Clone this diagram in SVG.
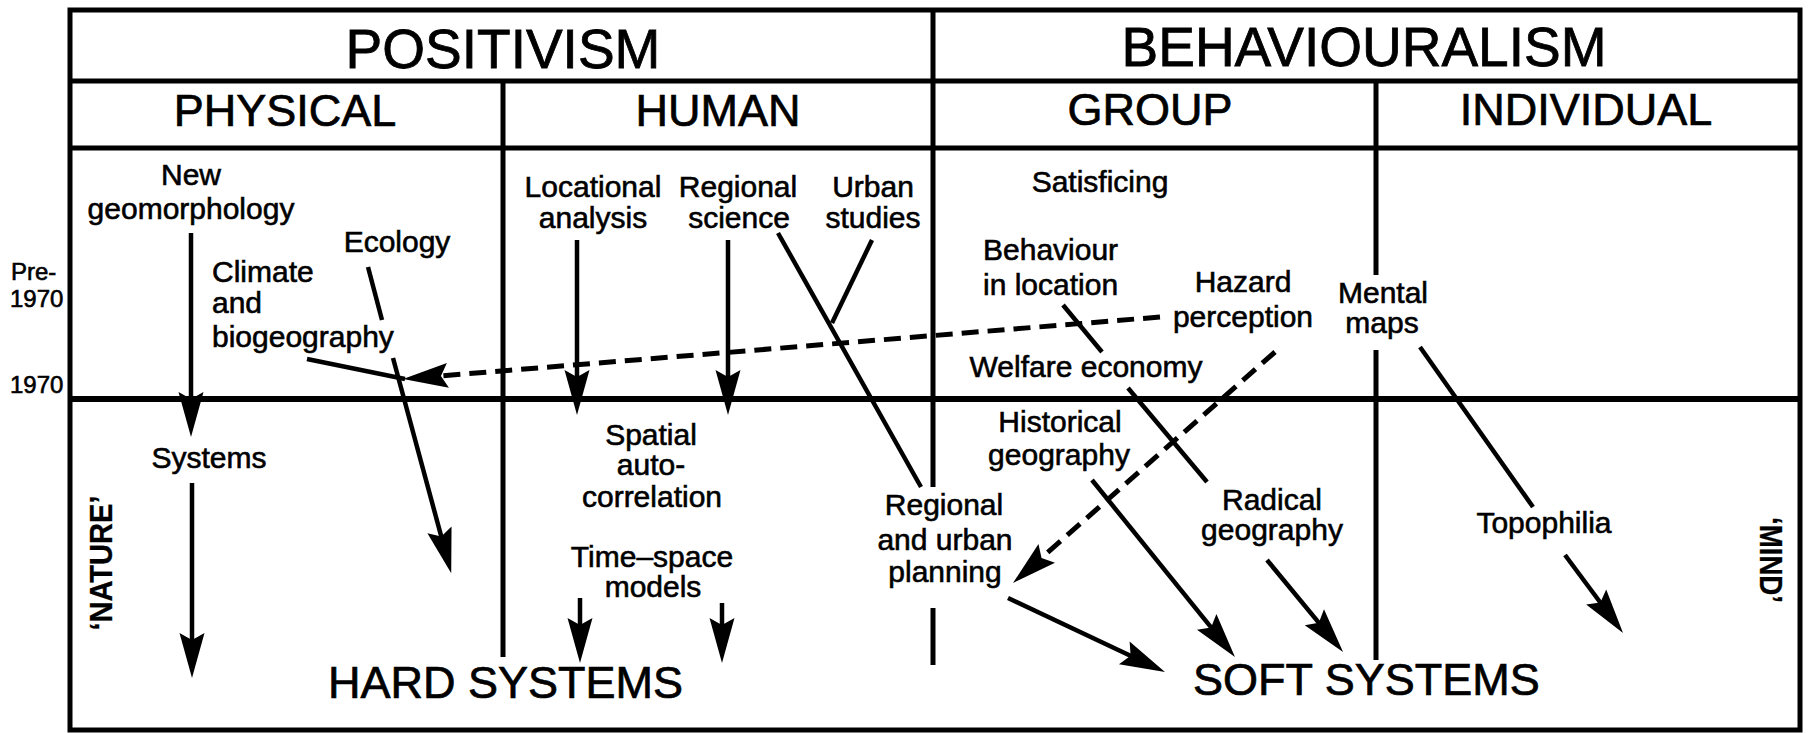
<svg xmlns="http://www.w3.org/2000/svg" width="1813" height="733" viewBox="0 0 1813 733">
<style>
  text { font-family: "Liberation Sans", Arial, sans-serif; fill: #000; stroke: #000; stroke-width: 0.6; }
  .s { font-size: 30px; }
  .m { text-anchor: middle; }
  .h1 { font-size: 55px; text-anchor: middle; stroke-width: 0.8; }
  .h2 { font-size: 45px; text-anchor: middle; stroke-width: 0.7; }
  .big { font-size: 45px; stroke-width: 0.7; }
  .yr { font-size: 24px; }
  .rot { font-size: 32px; font-weight: bold; text-anchor: middle; stroke-width: 0.3; }
  .grid line, .grid rect { stroke: #000; stroke-width: 5; fill: none; }
  .c line { stroke: #000; stroke-width: 4.5; fill: none; }
  .c .d { stroke-width: 5; stroke-dasharray: 17 9; }
  .c .a { marker-end: url(#ah); }
</style>
<defs>
  <marker id="ah" markerUnits="userSpaceOnUse" viewBox="-28 -14 50 28" markerWidth="50" markerHeight="28" refX="0" refY="0" orient="auto">
    <path d="M20,0 L-25,-12.5 L-18,0 L-25,12.5 Z" fill="#000"/>
  </marker>
</defs>
<rect width="1813" height="733" fill="#fff"/>

<g id="grid" class="grid">
  <rect x="70" y="10" width="1730" height="720"/>
  <line x1="70" y1="81" x2="1800" y2="81"/>
  <line x1="70" y1="148" x2="1800" y2="148"/>
  <line x1="70" y1="399" x2="1800" y2="399" style="stroke-width:6"/>
  <line x1="933" y1="10" x2="933" y2="487"/>
  <line x1="933" y1="608" x2="933" y2="665"/>
  <line x1="503" y1="81" x2="503" y2="657"/>
  <line x1="1376" y1="81" x2="1376" y2="275"/>
  <line x1="1376" y1="350" x2="1376" y2="660"/>
</g>

<g id="headers">
  <text id="positivism" class="h1" x="503" y="68">POSITIVISM</text>
  <text id="behaviouralism" class="h1" x="1364" y="66">BEHAVIOURALISM</text>
  <text id="physical" class="h2" x="285" y="126">PHYSICAL</text>
  <text id="human" class="h2" x="718" y="126">HUMAN</text>
  <text id="group" class="h2" x="1150" y="125">GROUP</text>
  <text id="individual" class="h2" x="1586" y="125">INDIVIDUAL</text>
</g>

<g id="time-labels">
  <text class="yr" x="11" y="280">Pre-</text>
  <text class="yr" x="10" y="307">1970</text>
  <text class="yr" x="10" y="393">1970</text>
</g>

<g id="node-new-geomorphology"><text class="s m" x="191" y="185">New</text><text class="s m" x="191" y="219">geomorphology</text></g>
<g id="node-ecology"><text class="s m" x="397" y="252">Ecology</text></g>
<g id="node-climate"><text class="s" x="212" y="282">Climate</text><text class="s" x="212" y="313">and</text><text class="s" x="212" y="347">biogeography</text></g>
<g id="node-locational"><text class="s m" x="593" y="197">Locational</text><text class="s m" x="593" y="228">analysis</text></g>
<g id="node-regional-science"><text class="s m" x="738" y="197">Regional</text><text class="s m" x="739" y="228">science</text></g>
<g id="node-urban"><text class="s m" x="873" y="197">Urban</text><text class="s m" x="873" y="228">studies</text></g>
<g id="node-satisficing"><text class="s m" x="1100" y="192">Satisficing</text></g>
<g id="node-behaviour"><text class="s" x="983" y="260">Behaviour</text><text class="s" x="983" y="295">in location</text></g>
<g id="node-hazard"><text class="s m" x="1243" y="292">Hazard</text><text class="s m" x="1243" y="327">perception</text></g>
<g id="node-mental"><text class="s m" x="1383" y="303">Mental</text><text class="s m" x="1382" y="333">maps</text></g>
<g id="node-welfare"><text class="s m" x="1086" y="377">Welfare economy</text></g>
<g id="node-systems"><text class="s m" x="209" y="468">Systems</text></g>
<g id="node-spatial"><text class="s m" x="651" y="445">Spatial</text><text class="s m" x="651" y="475">auto-</text><text class="s m" x="652" y="507">correlation</text></g>
<g id="node-timespace"><text class="s m" x="652" y="567">Time–space</text><text class="s m" x="653" y="597">models</text></g>
<g id="node-planning"><text class="s m" x="944" y="515">Regional</text><text class="s m" x="945" y="550">and urban</text><text class="s m" x="945" y="582">planning</text></g>
<g id="node-historical"><text class="s m" x="1060" y="432">Historical</text><text class="s m" x="1059" y="465">geography</text></g>
<g id="node-radical"><text class="s m" x="1272" y="510">Radical</text><text class="s m" x="1272" y="540">geography</text></g>
<g id="node-topophilia"><text class="s m" x="1544" y="533">Topophilia</text></g>
<g id="node-hard"><text class="big" x="328" y="698">HARD SYSTEMS</text></g>
<g id="node-soft"><text class="big" x="1193" y="695">SOFT SYSTEMS</text></g>
<g id="node-nature"><text class="rot" transform="translate(112,563) rotate(-90)" textLength="135" lengthAdjust="spacingAndGlyphs">‘NATURE’</text></g>
<g id="node-mind"><text class="rot" transform="translate(1760,560) rotate(90)" textLength="86" lengthAdjust="spacingAndGlyphs">‘MIND’</text></g>

<g id="connectors" class="c">
  <line class="a" x1="191" y1="233" x2="191" y2="417"/>
  <line class="a" x1="192" y1="483" x2="192" y2="658"/>
  <line x1="368" y1="267" x2="382" y2="320"/>
  <line class="a" x1="393" y1="358" x2="446" y2="554"/>
  <line x1="307" y1="359" x2="405" y2="379"/>
  <line class="d a" x1="1160" y1="317" x2="423" y2="377.4"/>
  <line class="a" x1="577" y1="240" x2="577" y2="395"/>
  <line class="a" x1="728" y1="240" x2="728" y2="395"/>
  <line x1="778" y1="233" x2="921" y2="487"/>
  <line x1="872" y1="240" x2="832" y2="323"/>
  <line class="a" x1="580" y1="598" x2="580" y2="643"/>
  <line class="a" x1="722" y1="603" x2="722" y2="643"/>
  <line x1="1063" y1="305" x2="1102" y2="352"/>
  <line x1="1128" y1="388" x2="1207" y2="482"/>
  <line class="d a" x1="1275" y1="352" x2="1028" y2="569.8"/>
  <line class="a" x1="1092" y1="480" x2="1222.4" y2="641.4"/>
  <line class="a" x1="1008" y1="598" x2="1146.9" y2="663.5"/>
  <line class="a" x1="1267" y1="560" x2="1330.3" y2="636.6"/>
  <line x1="1420" y1="347" x2="1533" y2="507"/>
  <line class="a" x1="1565" y1="555" x2="1611.1" y2="617"/>
</g>
</svg>
